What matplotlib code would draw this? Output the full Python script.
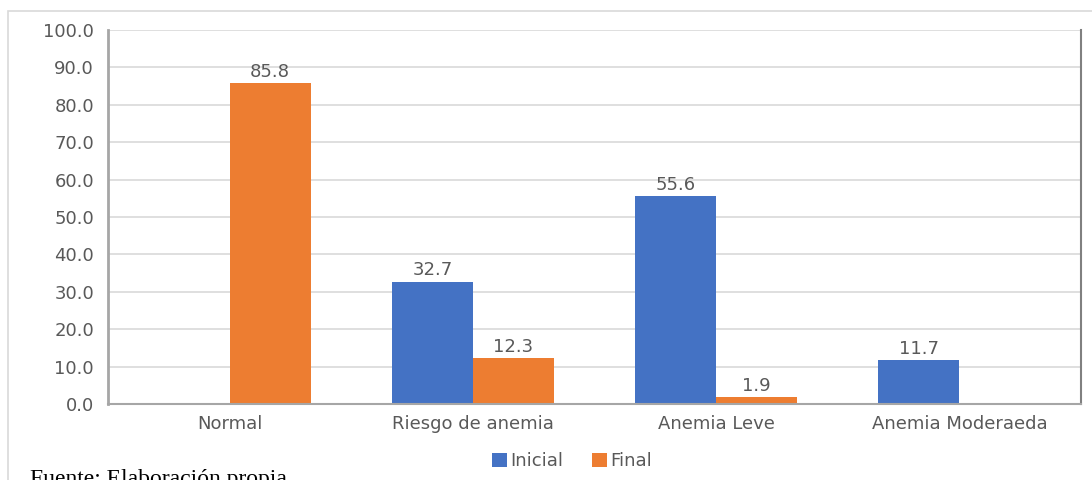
import numpy as np
import matplotlib.pyplot as plt
from matplotlib.patches import Rectangle

plt.rcParams['font.family'] = ['DejaVu Sans']

categories = ["Normal", "Riesgo de anemia", "Anemia Leve", "Anemia Moderaeda"]
inicial = [0.0, 32.7, 55.6, 11.7]
final = [85.8, 12.3, 1.9, 0.0]
yticks = np.arange(0, 101, 10)

BLUE = "#4472C4"
ORANGE = "#ED7D31"
TXT = "#595959"
FS = 13

fig = plt.figure(figsize=(10.92, 4.8), dpi=100)
ax = fig.add_axes([108 / 1092, 1 - 404 / 480, (1081 - 108) / 1092, (404 - 30) / 480])

# outer chart frame (cut off by the page crop)
fig.patches.append(Rectangle((8 / 1092, -0.05), 1.1, 1 - 11 / 480 + 0.05,
                             transform=fig.transFigure, fill=False,
                             edgecolor="#d9d9d9", lw=1.2))

x = np.arange(len(categories))
w = 1 / 3
b1 = ax.bar(x - w / 2, inicial, w, color=BLUE, label="Inicial")
b2 = ax.bar(x + w / 2, final, w, color=ORANGE, label="Final")

for bars, vals in ((b1, inicial), (b2, final)):
    for r, v in zip(bars, vals):
        if v > 0:
            ax.text(r.get_x() + r.get_width() / 2, v + 0.6, f"{v:.1f}",
                    ha="center", va="bottom", fontsize=FS, color=TXT)

ax.set_xlim(-0.5, len(categories) - 0.5)
ax.set_ylim(0, 100)
ax.set_yticks(yticks)
ax.set_yticklabels([f"{t:.1f}" for t in yticks])
ax.set_xticks(x)
ax.set_xticklabels(categories)
ax.tick_params(axis="both", length=0, labelsize=FS, labelcolor=TXT)
ax.tick_params(axis="y", pad=10)
ax.tick_params(axis="x", pad=8)

ax.yaxis.grid(True, color="#d9d9d9", lw=1.2)
ax.set_axisbelow(True)
ax.spines["top"].set_visible(False)
ax.spines["left"].set_color("#a6a6a6")
ax.spines["left"].set_linewidth(2)
ax.spines["bottom"].set_color("#a6a6a6")
ax.spines["bottom"].set_linewidth(1.5)
ax.spines["right"].set_color("#808080")
ax.spines["right"].set_linewidth(1.5)

fig.legend(handles=[b1, b2], loc="center", bbox_to_anchor=(572 / 1092, 1 - 461 / 480),
           ncol=2, frameon=False, fontsize=FS, handlelength=0.8, handleheight=0.8,
           handletextpad=0.2, columnspacing=1.6, labelcolor=TXT)

fig.text(30 / 1092, 1 - 469 / 480, "Fuente: Elaboración propia", ha="left", va="top",
         fontsize=17, family="Liberation Serif", color="black")

fig.savefig("out.png", dpi=100)
